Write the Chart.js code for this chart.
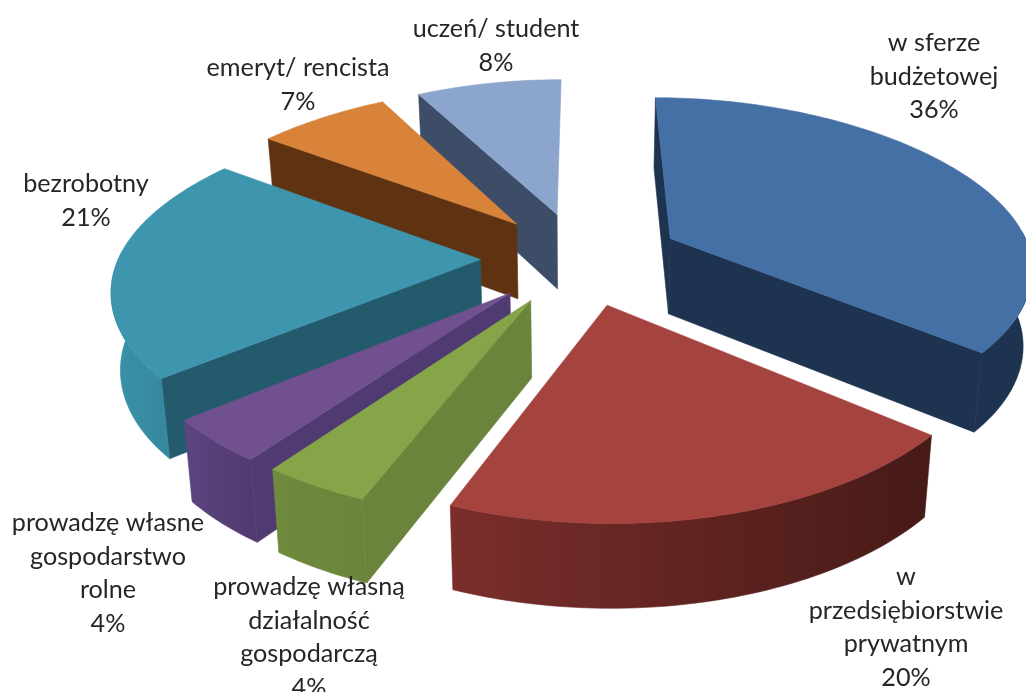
<!DOCTYPE html>
<html>
<head>
<meta charset="utf-8">
<style>
    html, body { margin: 0; padding: 0; background: #fff; }
    canvas { display: block; }
</style>
</head>
<body>
<canvas id="chart" width="1026" height="692"></canvas>
<script src="https://cdn.jsdelivr.net/npm/chart.js@4"></script>
<script>
// order is clockwise from 12 o'clock
const categories = [
    ['w sferze', 'budżetowej'],
    ['w', 'przedsiębiorstwie', 'prywatnym'],
    ['prowadzę własną', 'działalność', 'gospodarczą'],
    ['prowadzę własne', 'gospodarstwo', 'rolne'],
    ['bezrobotny'],
    ['emeryt/ rencista'],
    ['uczeń/ student'],
];
const values = [36, 20, 4, 4, 21, 7, 8];

const topColors = ['#4570a5', '#a5433f', '#85a548', '#70508f', '#3d96ad', '#d9833a', '#8ba5cc'];
const wallColors = ['#1d3350', '#5f2320', '#6b843c', '#503a72', '#235a6c', '#5f3311', '#3d4d68'];
const rimStart = ['#1d3350', '#461a17', '#6b853a', '#513a70', '#3688a0', '#5f3311', '#3d4d68'];
const rimEnd = ['#1d3350', '#7b2e2b', '#6f8a3c', '#5c4480', '#3a90a6', '#5f3311', '#3d4d68'];

const labelX = [934, 906, 309, 108, 86, 298, 496];
const labelY = [43, 577, 587, 523, 184, 68, 29];
const lineHeight = 33.5;

// camera used to lay the flat pie on the table
const vanishX = 581;
const horizonY = -828;
const scaleX = 1.005;
const scaleY = 1086;
const tilt = 0.00043;
const pieDepth = 76;
const wallNarrow = 0.98;

function project(px, py, lower) {
    const w = 1 / (1 - tilt * py);
    // the picture narrows a bit faster at the back than at the front
    const squeeze = (w < 1 ? 1.8 : 0.3) * (1 - w) * (1 - w);
    let x = vanishX + scaleX * px * w * (1 - squeeze);
    let y = horizonY + scaleY * w;
    if (lower) {
        x = vanishX + (x - vanishX) * wallNarrow;
        y += pieDepth * Math.sqrt(w);
    }
    return [x, y];
}

function fillPoly(ctx, points, fill) {
    ctx.beginPath();
    points.forEach((pt, i) => (i ? ctx.lineTo(pt[0], pt[1]) : ctx.moveTo(pt[0], pt[1])));
    ctx.closePath();
    ctx.fillStyle = fill;
    ctx.fill();
    ctx.strokeStyle = fill;
    ctx.lineWidth = 0.6;
    ctx.stroke();
}

function drawWall(ctx, cx, cy, edge, normalX, normalY, fill) {
    // skip walls turned away from the camera
    const facing = normalX * (0 - edge[0]) + normalY * (1 / tilt - edge[1]);
    if (facing < 40) return;
    fillPoly(ctx, [project(cx, cy), project(edge[0], edge[1]),
        project(edge[0], edge[1], true), project(cx, cy, true)], fill);
}

function drawSlice(ctx, arc, index) {
    const { startAngle, endAngle, outerRadius } = arc.getProps(['startAngle', 'endAngle', 'outerRadius'], true);
    const mid = (startAngle + endAngle) / 2;
    const cx = Math.cos(mid) * arc.options.offset;
    const cy = Math.sin(mid) * arc.options.offset;

    const rim = [];
    const front = [];
    const steps = Math.max(8, Math.round(values[index] * 3));
    for (let i = 0; i <= steps; i++) {
        const a = startAngle + (endAngle - startAngle) * i / steps;
        const pt = [cx + outerRadius * Math.cos(a), cy + outerRadius * Math.sin(a)];
        rim.push(pt);
        if (Math.sin(a) > -0.05) front.push(pt);
    }

    drawWall(ctx, cx, cy, rim[0], Math.sin(startAngle), -Math.cos(startAngle), wallColors[index]);
    drawWall(ctx, cx, cy, rim[steps], -Math.sin(endAngle), Math.cos(endAngle), wallColors[index]);

    if (front.length > 1) {
        const x0 = project(front[0][0], front[0][1])[0];
        const x1 = project(front[front.length - 1][0], front[front.length - 1][1])[0];
        const grad = ctx.createLinearGradient(x0, 0, x1, 0);
        grad.addColorStop(0, rimStart[index]);
        grad.addColorStop(1, rimEnd[index]);
        fillPoly(ctx, front.map((p) => project(p[0], p[1]))
            .concat(front.slice().reverse().map((p) => project(p[0], p[1], true))), grad);
    }

    fillPoly(ctx, [project(cx, cy)].concat(rim.map((p) => project(p[0], p[1]))), topColors[index]);
}

const pie3d = {
    id: 'pie3d',
    beforeDatasetDraw(chart, args) {
        const { ctx } = chart;
        const arcs = args.meta.data;
        // back slices first
        const mid = (arc) => (arc.startAngle + arc.endAngle) / 2;
        const order = arcs.map((arc, i) => i).sort((a, b) => Math.sin(mid(arcs[a])) - Math.sin(mid(arcs[b])));
        ctx.save();
        order.forEach((i) => drawSlice(ctx, arcs[i], i));
        ctx.restore();
        return false;
    },
    afterDraw(chart) {
        const { ctx } = chart;
        ctx.save();
        ctx.font = '25.2px Lato';
        ctx.fillStyle = '#262626';
        ctx.textAlign = 'center';
        ctx.textBaseline = 'middle';
        categories.forEach((lines, i) => {
            lines.concat(values[i] + '%').forEach((line, j) => {
                ctx.fillText(line, labelX[i], labelY[i] + j * lineHeight);
            });
        });
        ctx.restore();
    },
};

new Chart(document.getElementById('chart').getContext('2d'), {
    type: 'pie',
    data: {
        labels: categories.map((lines) => lines.join(' ')),
        datasets: [{
            data: values,
            backgroundColor: topColors,
            borderWidth: 0,
            offset: 100,
        }],
    },
    options: {
        responsive: false,
        animation: false,
        radius: 360,
        plugins: {
            legend: { display: false },
            tooltip: { enabled: false },
        },
    },
    plugins: [pie3d],
});
</script>
</body>
</html>
